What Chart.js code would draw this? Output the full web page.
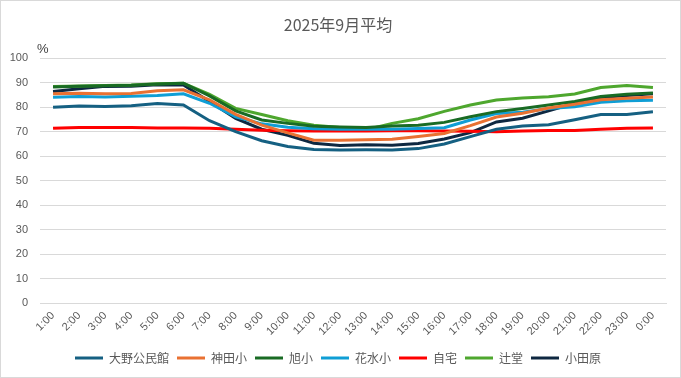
<!DOCTYPE html>
<html>
<head>
<meta charset="utf-8">
<script src="https://cdn.jsdelivr.net/npm/chart.js@4.4.1/dist/chart.umd.min.js"></script>
<style>
  html, body { margin: 0; padding: 0; background: #ffffff; }
  #wrap { position: relative; width: 679px; height: 376px; border: 1px solid #d9d9d9; background: #fff; }
  canvas { display: block; }
</style>
</head>
<body>
<div id="wrap"><canvas id="c" width="679" height="376"></canvas></div>
<script>
const titleText = "2025年9月平均";
const unitLabel = "%";
const hours = ["1:00","2:00","3:00","4:00","5:00","6:00","7:00","8:00","9:00","10:00","11:00","12:00",
               "13:00","14:00","15:00","16:00","17:00","18:00","19:00","20:00","21:00","22:00","23:00","0:00"];
const seriesNames = ["大野公民館","神田小","旭小","花水小","自宅","辻堂","小田原"];
const seriesColors = ["#156082","#E97132","#196B24","#0F9ED5","#FF0000","#4EA72E","#0E2841"];

const oono     = [80.0,80.5,80.3,80.6,81.5,80.9,74.5,70.0,66.3,64.0,62.7,62.5,62.6,62.5,63.1,65.0,68.0,71.0,72.3,72.8,74.9,77.0,77.0,78.1];
const kanda    = [85.5,85.7,85.5,85.6,86.7,87.1,83.0,77.1,72.7,69.5,66.5,66.5,66.7,66.9,68.0,69.3,72.5,76.0,77.5,79.7,81.2,83.0,83.7,84.2];
const asahi    = [88.2,88.6,88.8,89.0,89.5,89.8,84.6,78.5,74.8,73.4,72.2,71.9,71.7,72.3,72.6,73.8,76.1,78.2,79.5,80.9,82.3,84.4,85.3,85.8];
const hanamizu = [84.1,84.4,84.2,84.5,84.8,85.5,81.6,76.1,73.2,71.8,71.2,71.0,71.0,71.0,71.3,71.6,74.8,77.4,77.9,79.5,80.2,82.0,82.6,82.8];
const jitaku   = [71.4,71.7,71.7,71.7,71.5,71.5,71.4,71.0,70.6,70.4,70.3,70.3,70.3,70.4,70.4,70.3,70.2,70.0,70.3,70.5,70.5,71.0,71.4,71.5];
const tsujido  = [88.4,88.7,88.9,89.1,89.6,89.8,85.2,79.5,77.0,74.5,72.6,71.7,70.8,73.4,75.3,78.3,80.9,82.9,83.8,84.3,85.4,88.0,88.9,88.0];
const odawara  = [86.4,87.5,88.5,88.6,89.2,89.1,82.3,75.4,71.0,68.5,65.3,64.4,64.7,64.5,65.2,67.0,69.6,74.0,75.5,78.5,81.6,84.0,84.8,85.5];

const seriesValues = [oono, kanda, asahi, hanamizu, jitaku, tsujido, odawara];

const yMin = 0, yMax = 100, yStep = 10;

const datasets = seriesNames.map((name, i) => ({
  label: name,
  data: seriesValues[i],
  borderColor: seriesColors[i],
  backgroundColor: seriesColors[i],
  borderWidth: 3,
  pointRadius: 0,
  pointHoverRadius: 0,
  tension: 0,
  fill: false
}));

const unitPlugin = {
  id: 'unitLabel',
  afterDraw(chart) {
    const ctx = chart.ctx;
    const area = chart.chartArea;
    ctx.save();
    ctx.fillStyle = '#404040';
    ctx.font = '13px "Liberation Sans", "Noto Sans", sans-serif';
    ctx.textAlign = 'left';
    ctx.textBaseline = 'middle';
    ctx.fillText(unitLabel, area.left - 3, area.top - 9);
    ctx.restore();
  }
};

new Chart(document.getElementById('c'), {
  type: 'line',
  data: { labels: hours, datasets },
  plugins: [unitPlugin],
  options: {
    responsive: false,
    animation: false,
    layout: { padding: { left: 9, right: 14, top: 0, bottom: 3 } },
    plugins: {
      title: {
        display: true,
        text: titleText,
        color: '#595959',
        font: { family: '"Noto Sans CJK JP", sans-serif', size: 16, weight: 'normal' },
        padding: { top: 14, bottom: 24 }
      },
      legend: {
        position: 'bottom',
        labels: {
          usePointStyle: true,
          pointStyle: 'line',
          pointStyleWidth: 28,
          boxWidth: 28,
          boxHeight: 3,
          color: '#595959',
          font: { family: '"Noto Sans CJK JP", sans-serif', size: 12 },
          padding: 8
        }
      },
      tooltip: { enabled: false }
    },
    scales: {
      x: {
        offset: true,
        grid: { display: false, drawTicks: false },
        border: { display: true, color: '#d9d9d9', width: 1 },
        ticks: {
          color: '#595959',
          font: { family: '"Liberation Sans", sans-serif', size: 11 },
          minRotation: 45,
          maxRotation: 45,
          autoSkip: false,
          padding: 6
        },
        afterFit(scale) { scale.paddingLeft = 0; scale.paddingRight = 0; }
      },
      y: {
        min: yMin,
        max: yMax,
        grid: { color: '#d9d9d9', drawTicks: false },
        border: { display: false },
        ticks: {
          stepSize: yStep,
          color: '#595959',
          font: { family: '"Liberation Sans", sans-serif', size: 11 },
          padding: 12
        },
        afterFit(scale) { scale.width = 30; }
      }
    }
  }
});
</script>
</body>
</html>
